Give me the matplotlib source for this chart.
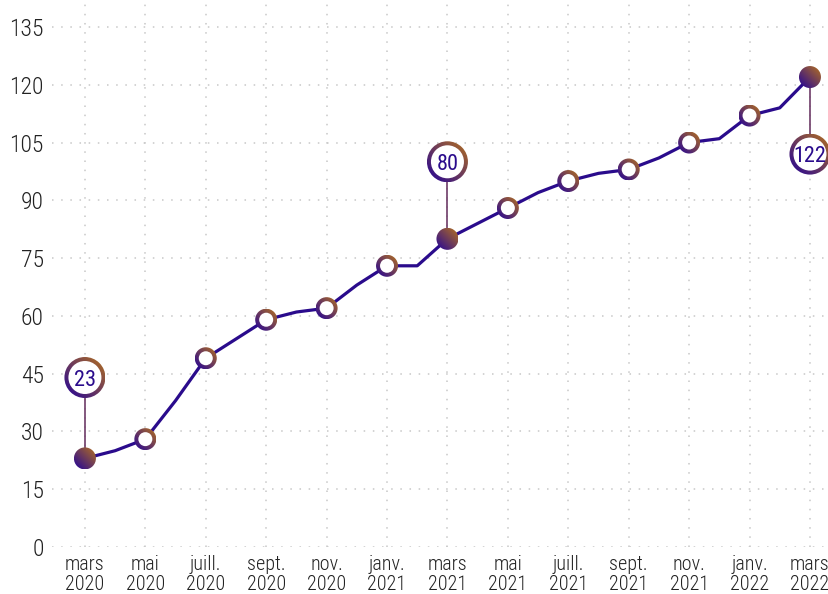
import matplotlib
matplotlib.use("Agg")
import matplotlib.pyplot as plt
import matplotlib.transforms as mtransforms
from matplotlib import font_manager
from matplotlib.patches import Circle
import numpy as np

# monthly values, mars 2020 -> mars 2022
values = [23, 25, 28, 38, 49, 54, 59, 61, 62, 68, 73, 73, 80,
          84, 88, 92, 95, 97, 98, 101, 105, 106, 112, 114, 122]
tick_labels = ["mars\n2020", "mai\n2020", "juill.\n2020", "sept.\n2020",
               "nov.\n2020", "janv.\n2021", "mars\n2021", "mai\n2021",
               "juill.\n2021", "sept.\n2021", "nov.\n2021", "janv.\n2022",
               "mars\n2022"]
highlight_idx = [0, 12, 24]
callout_shift = {0: 21, 12: 20, 24: -20}   # label offset from point (data units)
y_ticks = list(range(0, 136, 15))

LINE = "#2a0b8c"
PURPLE = np.array([0.16, 0.03, 0.58])
BROWN = np.array([0.68, 0.42, 0.14])


def _pick_font():
    cands = ["Liberation Sans Narrow", "Roboto Condensed", "Open Sans Condensed",
             "Noto Sans Condensed", "DejaVu Sans"]
    for name in cands:
        try:
            font_manager.findfont(name, fallback_to_default=False)
            return name
        except Exception:
            continue
    return "DejaVu Sans"


FONT = _pick_font()
plt.rcParams["font.family"] = [FONT, "DejaVu Sans"]

DPI = 100
fig = plt.figure(figsize=(829 / DPI, 594 / DPI), dpi=DPI)
ax = fig.add_axes([52 / 829, 47 / 594, 777 / 829, 547 / 594])

x = np.arange(len(values))
XLIM = (-1.09, 24.63)
YLIM = (0, 142)

# gradient image: purple bottom-left -> brown top-right
g = np.linspace(-1, 1, 64)
gx, gy = np.meshgrid(g, g)
t = np.clip((gx + gy) / 2 * 0.55 + 0.5, 0, 1)
grad = PURPLE[None, None, :] * (1 - t[..., None]) + BROWN[None, None, :] * t[..., None]


def _disk_transform(xd, yd, r_px):
    return mtransforms.Affine2D().scale(r_px) + mtransforms.ScaledTranslation(xd, yd, ax.transData)


def grad_disk(xd, yd, r_px, z):
    T = _disk_transform(xd, yd, r_px)
    im = ax.imshow(grad, extent=(-1, 1, -1, 1), origin="lower", aspect="auto",
                   interpolation="bilinear", transform=T, zorder=z)
    im.set_clip_path(Circle((0, 0), 1, transform=T))


def white_disk(xd, yd, r_px, z):
    ax.add_patch(Circle((0, 0), 1, transform=_disk_transform(xd, yd, r_px),
                        facecolor="white", edgecolor="none", zorder=z))


ax.plot(x, values, color=LINE, lw=2.3, zorder=3, solid_capstyle="round")

for i in range(0, len(values), 2):
    grad_disk(i, values[i], 11, 5)
    if i not in highlight_idx:
        white_disk(i, values[i], 7, 6)

for i in highlight_idx:
    ly = values[i] + callout_shift[i]
    ax.plot([i, i], [values[i], ly], color="#6e3c68", lw=1.2, zorder=4)
    grad_disk(i, ly, 20.5, 7)
    white_disk(i, ly, 16.5, 8)
    ax.text(i, ly, str(values[i]), ha="center", va="center_baseline",
            fontsize=16, color=LINE, zorder=9)

ax.set_xlim(*XLIM)
ax.set_ylim(*YLIM)
ax.set_xticks(x[::2])
ax.set_xticklabels(tick_labels, fontsize=14.5, color="#222222",
                   linespacing=1.05, fontweight="light")
ax.set_yticks(y_ticks)
ax.set_yticklabels([str(v) for v in y_ticks], fontsize=17, color="#222222",
                   fontweight="light")
ax.tick_params(length=0, pad=6)
ax.tick_params(axis="x", pad=6)
ax.grid(True, color="#c8c8c8", lw=1.1, linestyle=(0, (1, 5)))
ax.set_axisbelow(True)
for s in ax.spines.values():
    s.set_visible(False)

fig.savefig("out.png", dpi=DPI)
